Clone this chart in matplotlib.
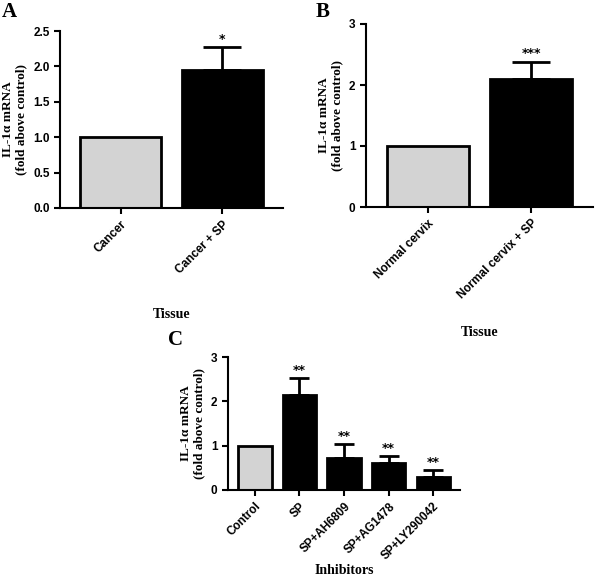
import numpy as np
import matplotlib.pyplot as plt

a_labels = ["Cancer", "Cancer + SP"]
a_vals = [1.0, 1.95]
a_err = [0, 0.32]
a_stars = ["", "*"]

b_labels = ["Normal cervix", "Normal cervix + SP"]
b_vals = [1.0, 2.1]
b_err = [0, 0.28]
b_stars = ["", "***"]

c_labels = ["Control", "SP", "SP+AH6809", "SP+AG1478", "SP+LY290042"]
c_vals = [1.0, 2.15, 0.72, 0.62, 0.3]
c_err = [0, 0.38, 0.32, 0.15, 0.15]
c_stars = ["", "**", "**", "**", "**"]

W, H = 600, 578
fig = plt.figure(figsize=(6, 5.78), dpi=100)

def px(l, b, r, t):
    return [l / W, 1 - b / H, (r - l) / W, (b - t) / H]

def panel(rect, labels, vals, err, stars, ymax, yticks, fmt, xlabel, letter, xlab_y, bw, cap):
    ax = fig.add_axes(px(*rect))
    x = np.arange(len(vals))
    colors = ["#d3d3d3"] + ["black"] * (len(vals) - 1)
    ax.bar(x, vals, width=bw, color=colors, edgecolor="black", linewidth=2, zorder=2)
    for i in range(1, len(vals)):
        ax.errorbar(x[i], vals[i], yerr=[[0], [err[i]]], color="black", capsize=cap,
                    elinewidth=2, capthick=2, zorder=1)
        ax.text(x[i], vals[i] + err[i] + ymax * 0.01, stars[i], ha="center", va="bottom",
                fontsize=9, fontweight="bold")
    ax.set_ylim(0, ymax)
    ax.set_xlim(-0.6, len(vals) - 0.4)
    ax.set_yticks(yticks)
    ax.set_yticklabels([fmt.format(v) for v in yticks], fontsize=8.5, fontweight="bold", family="Liberation Sans")
    ax.set_xticks(x)
    ax.set_xticklabels(labels, rotation=45, ha="right", rotation_mode="anchor", fontsize=8.5,
                       fontweight="bold", family="Liberation Sans")
    for s in ["top", "right"]:
        ax.spines[s].set_visible(False)
    for s in ["left", "bottom"]:
        ax.spines[s].set_linewidth(1.5)
    ax.tick_params(width=1.5, length=4)
    ax.set_ylabel("IL-1\u03b1 mRNA\n(fold above control)", family="Liberation Serif",
                  fontweight="bold", fontsize=9.5)
    fig.text((rect[0] + rect[2]) / 2 / W, 1 - xlab_y / H, xlabel, ha="center", va="center",
             family="Liberation Serif", fontweight="bold", fontsize=10)
    fig.text(letter[0] / W, 1 - letter[1] / H, letter[2], ha="left", va="center",
             family="Liberation Serif", fontweight="bold", fontsize=15)
    return ax

panel((60, 208, 283, 31), a_labels, a_vals, a_err, a_stars, 2.5,
      [0, 0.5, 1.0, 1.5, 2.0, 2.5], "{:.1f}", "Tissue", (2, 12, "A"), 315, 0.8, 14)
panel((366, 207, 593, 24), b_labels, b_vals, b_err, b_stars, 3,
      [0, 1, 2, 3], "{:.0f}", "Tissue", (316, 12, "B"), 333, 0.8, 14)
panel((228, 490, 460, 357), c_labels, c_vals, c_err, c_stars, 3,
      [0, 1, 2, 3], "{:.0f}", "Inhibitors", (168, 340, "C"), 570, 0.75, 7)

fig.savefig("out.png", dpi=100)
